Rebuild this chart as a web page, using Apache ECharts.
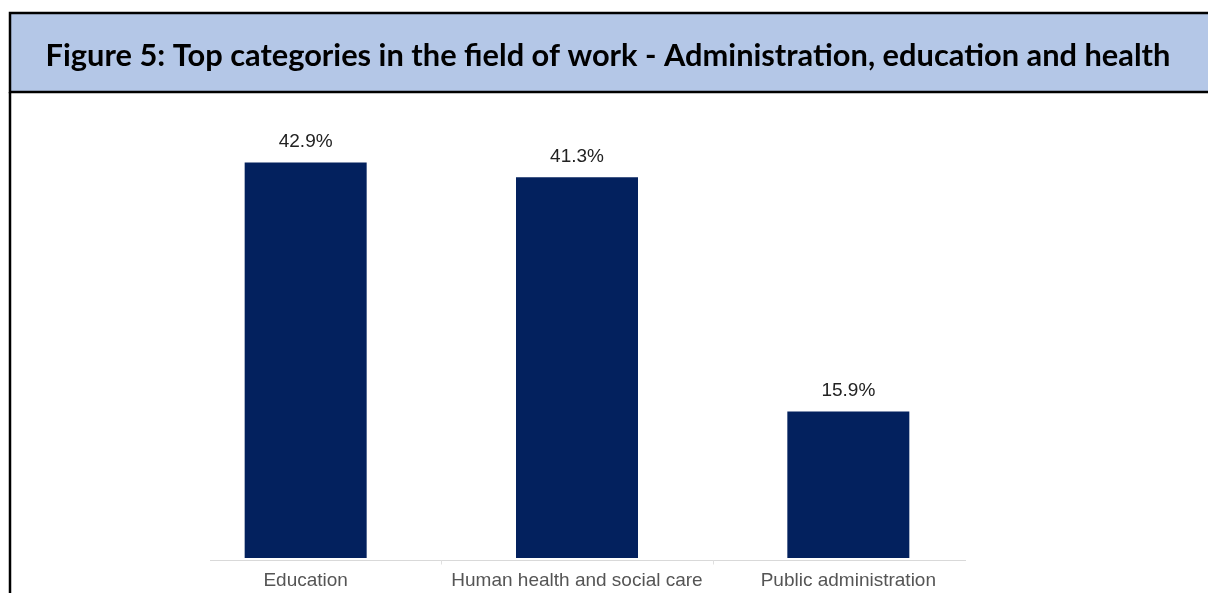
<!DOCTYPE html>
<html>
<head>
<meta charset="utf-8">
<script src="https://cdn.jsdelivr.net/npm/echarts@6/dist/echarts.min.js"></script>
<style>
  html, body { margin: 0; padding: 0; background: #ffffff; }
  #chart { width: 1208px; height: 593px; }
</style>
</head>
<body>
<div id="chart"></div>
<script>
// Share of respondents by field-of-work category
const categories = ['Education', 'Human health and social care', 'Public administration'];
const shares = [42.9, 41.3, 15.9];
const titleText = 'Figure 5: Top categories in the field of work - Administration, education and health';

const barColor = '#03215e';
const headerFill = '#b4c7e7';

const chart = echarts.init(document.getElementById('chart'), null, { renderer: 'canvas' });

chart.setOption({
  animation: false,
  backgroundColor: '#ffffff',
  title: {
    text: titleText,
    left: 603,
    top: 36,
    textAlign: 'center',
    textStyle: {
      fontFamily: 'Lato',
      fontWeight: 'bold',
      fontSize: 30.8,
      color: '#000000'
    }
  },
  grid: { left: 170, right: 224, top: 97, bottom: 35 },
  xAxis: {
    type: 'category',
    data: categories,
    axisLine: { show: false },
    axisTick: { show: false },
    axisLabel: {
      interval: 0,
      color: '#555555',
      fontFamily: 'Liberation Sans, Arial, sans-serif',
      fontSize: 19,
      margin: 13
    }
  },
  yAxis: {
    type: 'value',
    min: 0,
    max: 50,
    show: false,
    splitLine: { show: false }
  },
  series: [{
    type: 'bar',
    data: shares,
    barWidth: 122,
    itemStyle: { color: barColor },
    label: {
      show: true,
      position: 'top',
      distance: 11,
      formatter: p => p.value.toFixed(1) + '%',
      color: '#222222',
      fontFamily: 'Liberation Sans, Arial, sans-serif',
      fontSize: 19
    }
  }]
});

// Frame, header band, baseline and band separators
function drawDecor() {
  const centers = categories.map((c, i) => chart.convertToPixel({ xAxisIndex: 0 }, c));
  const base = chart.convertToPixel({ yAxisIndex: 0 }, 0);
  const half = (centers[1] - centers[0]) / 2;
  const lineY = Math.round(base) + 2.5;
  const elements = [
    {
      type: 'rect', z: -1,
      shape: { x: 10, y: 13, width: 1210, height: 79 },
      style: { fill: headerFill, stroke: '#000000', lineWidth: 2.5 }
    },
    {
      type: 'line',
      shape: { x1: 10, y1: 92, x2: 10, y2: 600 },
      style: { stroke: '#000000', lineWidth: 2.5 }
    },
    {
      type: 'line',
      shape: { x1: centers[0] - half + 40, y1: lineY, x2: centers[2] + half - 18, y2: lineY },
      style: { stroke: '#d9d9d9', lineWidth: 1 }
    }
  ];
  for (let i = 1; i < centers.length; i++) {
    const x = Math.round((centers[i - 1] + centers[i]) / 2) + 0.5;
    elements.push({
      type: 'line',
      shape: { x1: x, y1: lineY, x2: x, y2: lineY + 4 },
      style: { stroke: '#e0e0e0', lineWidth: 1 }
    });
  }
  chart.setOption({ graphic: { elements } });
}
drawDecor();
</script>
</body>
</html>
